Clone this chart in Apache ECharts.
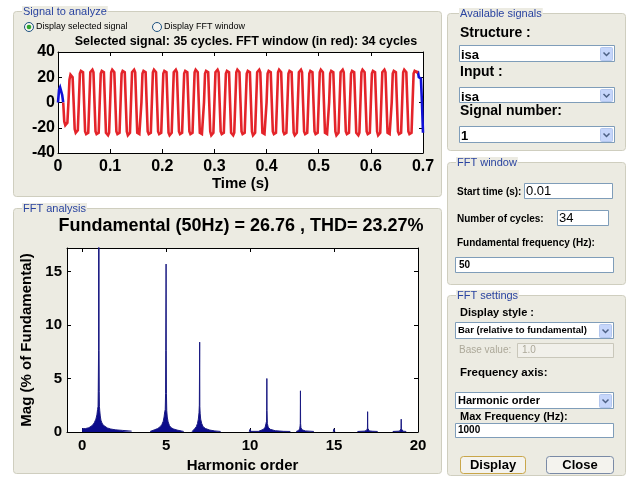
<!DOCTYPE html>
<html>
<head>
<meta charset="utf-8">
<script src="https://cdn.jsdelivr.net/npm/echarts@6/dist/echarts.min.js"></script>
<style>
  html, body { margin: 0; padding: 0; background: #ffffff; }
  #main { width: 627px; height: 485px; }
</style>
</head>
<body>
<div id="main"></div>
<script>
// ---- Signal to analyze: one sample every 2 ms, 0 ... 0.7 s (35 cycles of 50 Hz) ----
const sampleStep = 0.002;
const signalValues = [
  0, 10, 12, 11, 6, 0, -15, -18, -18, -16,
  0, 18, 22, 22, 20, 0, -21, -24, -24, -22,
  0, 23, 25, 25, 24, 0, -23, -25, -25, -24,
  0, 24, 25, 26, 24, 0, -23, -25, -25, -24,
  0, 23, 25, 25, 24, 0, -24, -25, -26, -24,
  0, 24, 26, 25, 24, 0, -23, -25, -25, -24,
  0, 23, 25, 25, 24, 0, -23, -26, -25, -24,
  0, 24, 25, 26, 24, 0, -24, -25, -25, -24,
  0, 23, 25, 25, 24, 0, -23, -25, -26, -24,
  0, 24, 26, 25, 24, 0, -23, -25, -25, -24,
  0, 23, 25, 25, 24, 0, -24, -26, -25, -24,
  0, 24, 25, 26, 24, 0, -23, -25, -25, -24,
  0, 23, 25, 25, 24, 0, -23, -25, -26, -24,
  0, 24, 26, 25, 24, 0, -24, -25, -25, -24,
  0, 23, 25, 25, 24, 0, -23, -26, -25, -24,
  0, 24, 25, 26, 24, 0, -23, -25, -25, -24,
  0, 23, 25, 25, 24, 0, -24, -25, -26, -24,
  0, 24, 26, 25, 24, 0, -23, -25, -25, -24,
  0, 23, 25, 25, 24, 0, -23, -26, -25, -24,
  0, 24, 25, 26, 24, 0, -24, -25, -25, -24,
  0, 23, 25, 25, 24, 0, -23, -25, -26, -24,
  0, 24, 26, 25, 24, 0, -23, -25, -25, -24,
  0, 23, 25, 25, 24, 0, -24, -26, -25, -24,
  0, 24, 25, 26, 24, 0, -23, -25, -25, -24,
  0, 23, 25, 25, 24, 0, -23, -25, -26, -24,
  0, 24, 26, 25, 24, 0, -24, -25, -25, -24,
  0, 23, 25, 25, 24, 0, -23, -26, -25, -24,
  0, 24, 25, 26, 24, 0, -23, -25, -25, -24,
  0, 23, 25, 25, 24, 0, -24, -25, -26, -24,
  0, 24, 26, 25, 24, 0, -23, -25, -25, -24,
  0, 23, 25, 25, 24, 0, -23, -26, -25, -24,
  0, 24, 25, 26, 24, 0, -24, -25, -25, -24,
  0, 23, 25, 25, 24, 0, -23, -25, -26, -24,
  0, 24, 26, 25, 24, 0, -23, -25, -25, -24,
  0, 23, 25, 25, 24, 25, 20, 20, 19, 0,
  -24
];
// FFT window (drawn in red)
const fftWindowStart = 0.01;
const fftWindowEnd = 0.69;

const timeTicks = [0, 0.1, 0.2, 0.3, 0.4, 0.5, 0.6, 0.7];
const amplitudeTicks = [-40, -20, 0, 20, 40];

// ---- FFT analysis: magnitude in % of fundamental vs harmonic order ----
const harmonicOrder = [
  0.00, 0.20, 0.40, 0.60, 0.72, 0.82, 0.88, 0.92, 0.95, 0.96, 0.97, 0.98, 0.99, 1.00, 1.01, 1.02, 1.03, 1.05, 1.08, 1.12, 1.18, 1.25, 1.35, 1.50, 1.70, 2.00, 2.40, 2.95,
  3.50,
  4.05, 4.30, 4.50, 4.65, 4.75, 4.83, 4.88, 4.92, 4.95, 4.97, 4.98, 4.99, 5.00, 5.01, 5.02, 5.04, 5.07, 5.12, 5.20, 5.30, 5.45, 5.65, 5.90, 6.05,
  6.30,
  6.55, 6.70, 6.80, 6.87, 6.92, 6.96, 6.98, 6.99, 7.00, 7.01, 7.03, 7.06, 7.12, 7.20, 7.35, 7.60, 7.90, 8.25,
  9.00,
  9.95, 10.00, 10.05, 10.50, 10.80, 10.90, 10.95, 10.98, 10.99, 11.00, 11.01, 11.03, 11.08, 11.20, 11.50, 12.00, 12.40,
  12.60,
  12.75, 12.90, 12.96, 12.98, 12.99, 13.00, 13.01, 13.03, 13.10, 13.30, 13.80,
  14.50,
  14.95, 15.00, 15.05,
  16.00,
  16.40, 16.80, 16.94, 16.98, 16.99, 17.00, 17.01, 17.03, 17.10, 17.30, 17.60,
  18.00,
  18.50, 18.90, 18.96, 18.98, 18.99, 19.00, 19.01, 19.03, 19.10, 19.30
];
const magnitudePct = [
  0.30, 0.32, 0.40, 0.60, 0.85, 1.20, 1.60, 2.10, 2.40, 3.80, 3.80, 7.60, 7.60, 100, 7.60, 3.80, 2.40, 2.00, 1.50, 1.10, 0.85, 0.65, 0.50, 0.38, 0.28, 0.20, 0.15, 0.08,
  null,
  0.05, 0.20, 0.32, 0.50, 0.70, 1.00, 1.40, 1.90, 2.10, 3.60, 7.60, 7.60, 15.70, 7.60, 3.60, 2.00, 1.40, 0.95, 0.60, 0.40, 0.28, 0.18, 0.10, 0.05,
  null,
  0.05, 0.30, 0.50, 0.80, 1.20, 1.80, 2.50, 2.50, 8.40, 2.40, 1.70, 1.20, 0.80, 0.50, 0.32, 0.18, 0.10, 0.05,
  null,
  0.05, 0.25, 0.06, 0.06, 0.25, 0.45, 0.80, 1.00, 2.00, 5.00, 2.00, 0.80, 0.45, 0.25, 0.12, 0.06, 0.05,
  null,
  0.05, 0.15, 0.35, 0.60, 0.80, 3.85, 0.80, 0.40, 0.20, 0.10, 0.05,
  null,
  0.05, 0.30, 0.05,
  null,
  0.05, 0.08, 0.15, 0.25, 0.35, 1.90, 0.35, 0.20, 0.10, 0.07, 0.05,
  null,
  0.05, 0.08, 0.12, 0.20, 0.30, 1.20, 0.30, 0.15, 0.08, 0.05
];
const harmonicTicks = [0, 5, 10, 15, 20];
const magnitudeTicks = [0, 5, 10, 15];

const signalTitle = 'Selected signal: 35 cycles. FFT window (in red): 34 cycles';
const fftTitle = 'Fundamental (50Hz) = 26.76 , THD= 23.27%';

// ---- series data ----
const fullSignal = signalValues.map((v, i) => [+(i * sampleStep).toFixed(4), v]);
const inWindow = t => t >= fftWindowStart - 1e-9 && t <= fftWindowEnd + 1e-9;
const onWindowEdge = t => Math.abs(t - fftWindowStart) < 1e-9 || Math.abs(t - fftWindowEnd) < 1e-9;
// blue: the parts of the selected signal outside the FFT window
const outsideSignal = fullSignal.map(p => (!inWindow(p[0]) || onWindowEdge(p[0])) ? p : [p[0], '-']);
const windowSignal = fullSignal.filter(p => inWindow(p[0]));
const spectrum = harmonicOrder.map((h, i) => [h, magnitudePct[i] === null ? '-' : magnitudePct[i]]);

// ---- styling ----
const FONT = '"Liberation Sans", Arial, sans-serif';
const PANEL = '#ecebe2';
const PANEL_BORDER = '#cfcebf';
const TITLE_BLUE = '#2a44a0';
const FIELD_BORDER = '#7f9db9';

const boldLabel = (size) => ({ color: '#000', fontFamily: FONT, fontWeight: 'bold', fontSize: size });

function frameAxis(gridIndex, pos, min, max, ticks, labelOpts, extra) {
  return Object.assign({
    gridIndex, type: 'value', position: pos, min, max,
    axisLine: { show: true, onZero: false, lineStyle: { color: '#000', width: 1 } },
    axisTick: { show: true, inside: true, length: 4, customValues: ticks, lineStyle: { color: '#000' } },
    axisLabel: labelOpts ? Object.assign({ customValues: ticks, margin: 6 }, labelOpts) : { show: false },
    splitLine: { show: false }
  }, extra || {});
}

// ---- GUI frame drawn with graphic elements ----
const gui = [];
function rect(x, y, w, h, fill, stroke, r, z) {
  gui.push({ type: 'rect', z: z === undefined ? -10 : z, silent: true,
    shape: { x: x + 0.5, y: y + 0.5, width: w, height: h, r: r || 0 },
    style: { fill: fill, stroke: stroke || null, lineWidth: 1 } });
}
function text(x, y, str, font, color, align) {
  gui.push({ type: 'text', z: 20, silent: true, x: x, y: y,
    style: { text: str, font: font, fill: color || '#000', textAlign: align || 'left', textVerticalAlign: 'middle' } });
}
function groupBox(x, y, w, h, title, titleX) {
  rect(x, y, w, h, PANEL, PANEL_BORDER, 3, -10);
  gui.push({ type: 'text', z: 20, silent: true, x: titleX, y: y + 0.5,
    style: { text: title, font: '11px ' + FONT, fill: TITLE_BLUE, textAlign: 'left', textVerticalAlign: 'middle',
      backgroundColor: PANEL, padding: [0, 1] } });
}
function field(x, y, w, h, border, fill) {
  rect(x, y, w, h, fill || '#ffffff', border || FIELD_BORDER, 0, 5);
}
function combo(x, y, w, h) {
  field(x, y, w, h);
  const bx = x + w - 14, by = y + 2;
  rect(bx, by, 12, h - 3, '#c6d6fb', '#b4c7ee', 1, 6);
  const cx = bx + 6.5, cy = by + (h - 3) / 2 + 0.5;
  gui.push({ type: 'polyline', z: 7, silent: true,
    shape: { points: [[cx - 3, cy - 1.5], [cx, cy + 1.5], [cx + 3, cy - 1.5]] },
    style: { stroke: '#4d6185', lineWidth: 1.5, fill: null } });
}
function radio(cx, cy, checked) {
  gui.push({ type: 'circle', z: 6, silent: true, shape: { cx: cx, cy: cy, r: 4.5 },
    style: { fill: '#f4f4f0', stroke: '#1c5180', lineWidth: 1 } });
  if (checked) {
    gui.push({ type: 'circle', z: 7, silent: true, shape: { cx: cx, cy: cy, r: 2.3 },
      style: { fill: '#2fa52f' } });
  }
}
function button(x, y, w, h, label, focus) {
  rect(x, y, w, h, '#f4f3ee', focus ? '#c9a64a' : '#7a8aa6', 3, 6);
  text(x + w / 2 + 0.5, y + h / 2 + 1, label, 'bold 13px ' + FONT, '#000', 'center');
}

// white plot backgrounds
rect(58, 52, 365, 101, '#ffffff', null, 0, -5);
rect(67, 248, 351, 184, '#ffffff', null, 0, -5);

// group boxes
groupBox(13, 11, 428, 185, 'Signal to analyze', 22);
groupBox(13, 208, 428, 265, 'FFT analysis', 22);
groupBox(447, 13, 178, 137, 'Available signals', 459);
groupBox(447, 162, 178, 122, 'FFT window', 456);
groupBox(447, 295, 178, 180, 'FFT settings', 456);

// signal panel controls and titles
radio(29, 27, true);
text(36, 27, 'Display selected signal', '9px ' + FONT);
radio(157, 27, false);
text(164, 27, 'Display FFT window', '9px ' + FONT);
text(246, 42, signalTitle, 'bold 12.5px ' + FONT, '#000', 'center');
text(241, 226, fftTitle, 'bold 18px ' + FONT, '#000', 'center');

// Available signals
text(460, 33, 'Structure :', 'bold 14px ' + FONT);
combo(459, 45, 155, 16);
text(461, 55, 'isa', 'bold 13px ' + FONT);
text(460, 72, 'Input :', 'bold 14px ' + FONT);
combo(459, 87, 155, 15);
text(461, 97, 'isa', 'bold 13px ' + FONT);
text(460, 111, 'Signal number:', 'bold 14px ' + FONT);
combo(459, 126, 155, 16);
text(461, 136, '1', 'bold 13px ' + FONT);

// FFT window
text(457, 192, 'Start time (s):', 'bold 10px ' + FONT);
field(524, 183, 88, 15);
text(526, 191, '0.01', '13px ' + FONT);
text(457, 219, 'Number of cycles:', 'bold 10px ' + FONT);
field(557, 210, 51, 15);
text(559, 218, '34', '13px ' + FONT);
text(457, 243, 'Fundamental frequency (Hz):', 'bold 10px ' + FONT);
field(455, 257, 158, 15);
text(459, 265, '50', 'bold 10px ' + FONT);

// FFT settings
text(460, 313, 'Display style :', 'bold 11px ' + FONT);
combo(455, 322, 158, 16);
text(458, 330.5, 'Bar (relative to fundamental)', 'bold 9.5px ' + FONT);
text(459, 350, 'Base value:', '10px ' + FONT, '#aca899');
field(517, 343, 96, 14, '#c9c7ba', '#f1f0ea');
text(522, 350.5, '1.0', '10px ' + FONT, '#aca899');
text(460, 373, 'Frequency axis:', 'bold 11.5px ' + FONT);
combo(455, 392, 158, 16);
text(458, 400.5, 'Harmonic order', 'bold 11px ' + FONT);
text(460, 417, 'Max Frequency (Hz):', 'bold 11px ' + FONT);
field(455, 423, 158, 14);
text(458, 430.5, '1000', 'bold 10px ' + FONT);
button(460, 456, 65, 17, 'Display', true);
button(546, 456, 67, 17, 'Close', false);

const option = {
  animation: false,
  backgroundColor: '#ffffff',
  grid: [
    { left: 58, top: 52, width: 365, height: 101, show: false },
    { left: 67, top: 248, width: 351, height: 184, show: false }
  ],
  xAxis: [
    frameAxis(0, 'bottom', 0, 0.7, timeTicks, boldLabel(16), {
      name: 'Time (s)', nameLocation: 'middle', nameGap: 23, nameTextStyle: boldLabel(15)
    }),
    frameAxis(0, 'top', 0, 0.7, timeTicks, null),
    frameAxis(1, 'bottom', -0.9, 20, harmonicTicks, boldLabel(15), {
      name: 'Harmonic order', nameLocation: 'middle', nameGap: 26, nameTextStyle: boldLabel(15)
    }),
    frameAxis(1, 'top', -0.9, 20, harmonicTicks, null)
  ],
  yAxis: [
    frameAxis(0, 'left', -40, 40, amplitudeTicks, Object.assign(boldLabel(16), { margin: 3 })),
    frameAxis(0, 'right', -40, 40, amplitudeTicks, null),
    frameAxis(1, 'left', 0, 17.2, magnitudeTicks, Object.assign(boldLabel(15), { margin: 5 }), {
      name: 'Mag (% of Fundamental)', nameLocation: 'middle', nameGap: 29, nameTextStyle: boldLabel(15)
    }),
    frameAxis(1, 'right', 0, 17.2, magnitudeTicks, null)
  ],
  series: [
    {
      name: 'Selected signal', type: 'line', xAxisIndex: 0, yAxisIndex: 0,
      data: outsideSignal, connectNulls: false, showSymbol: false, symbol: 'none', z: 3,
      lineStyle: { color: '#1010d8', width: 2.6, join: 'miter' }
    },
    {
      name: 'FFT window', type: 'line', xAxisIndex: 0, yAxisIndex: 0,
      data: windowSignal, showSymbol: false, symbol: 'none', z: 4,
      lineStyle: { color: '#e4242a', width: 2.6, join: 'miter' }
    },
    {
      name: 'Spectrum', type: 'line', xAxisIndex: 2, yAxisIndex: 2,
      data: spectrum, showSymbol: false, symbol: 'none', connectNulls: false, clip: true, z: 3,
      lineStyle: { color: '#1a1a82', width: 1 },
      areaStyle: { color: '#0c0c8c', opacity: 1 }
    }
  ],
  graphic: { elements: gui }
};

const chart = echarts.init(document.getElementById('main'), null, { renderer: 'canvas' });
chart.setOption(option);
</script>
</body>
</html>
